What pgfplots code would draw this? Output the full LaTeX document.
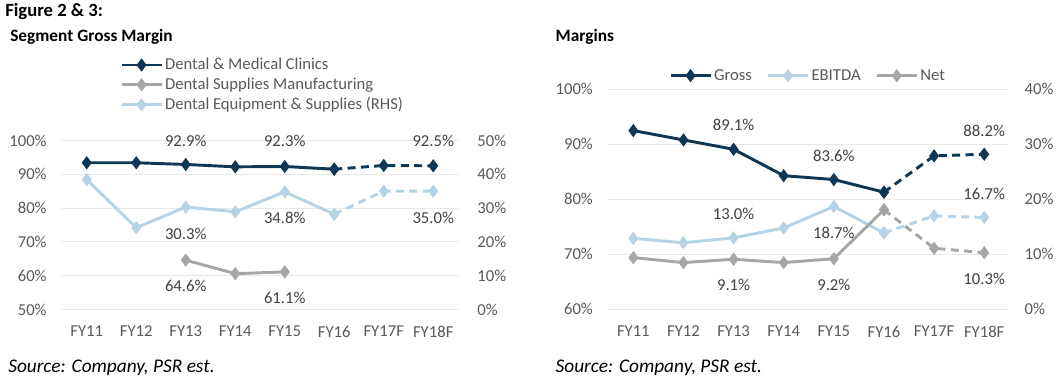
\documentclass[border=0pt]{standalone}
\usepackage{pgfplots}
\pgfplotsset{compat=1.18}
\usepackage{fontspec}
\setmainfont{Carlito}
\definecolor{navy}{RGB}{13,55,84}
\definecolor{lblue}{RGB}{182,211,229}
\definecolor{mgrey}{RGB}{166,166,166}
\definecolor{tgrey}{RGB}{89,89,89}
\definecolor{lgrey}{RGB}{64,64,64}
\definecolor{gridc}{RGB}{232,232,232}
\newcommand{\tf}{\fontsize{12.5}{14}\selectfont}
\pgfplotsset{
  base/.style={scale only axis, clip=false, xmin=-0.5, xmax=7.5,
    xtick={0,...,7}, xticklabels={FY11,FY12,FY13,FY14,FY15,FY16,FY17F,FY18F},
    axis line style={draw=none}, major tick length=0pt,
    font=\tf, /pgf/number format/assume math mode=true,
    ticklabel style={text=tgrey},
    xticklabel style={yshift=-9pt},
    yticklabel={\pgfmathprintnumber[fixed]{\tick}\%},
    legend image code/.code={\draw[mark repeat=2,mark phase=2,##1] plot coordinates {(0pt,0pt) (15pt,0pt) (30pt,0pt)};},
  },
  grd/.style={ymajorgrids, grid style={gridc, line width=0.8pt}},
  ln/.style={line width=2.2pt, mark=diamond*, mark size=3.2pt, mark options={solid}},
  dsh/.style={ln, dash pattern=on 6pt off 4pt},
}
\begin{document}
\begin{tikzpicture}
\path[use as bounding box] (0,0) rectangle (796.5pt,286.5pt);
% titles
\node[anchor=base west, inner sep=0pt, font=\fontsize{14}{16}\selectfont\bfseries] at (3.75pt,273.75pt) {Figure 2 \& 3:};
\node[anchor=base west, inner sep=0pt, font=\fontsize{13}{15}\selectfont\bfseries] at (7.5pt,255.2pt) {Segment Gross Margin};
\node[anchor=base west, inner sep=0pt, font=\fontsize{13}{15}\selectfont\bfseries] at (416.5pt,255.2pt) {Margins};
\node[anchor=base west, inner sep=0pt, font=\fontsize{14.5}{16}\selectfont\itshape] at (6pt,7.5pt) {Source: Company, PSR est.};
\node[anchor=base west, inner sep=0pt, font=\fontsize{14.5}{16}\selectfont\itshape] at (416.5pt,7.5pt) {Source: Company, PSR est.};

% ---------- Left chart ----------
\begin{axis}[base, grd, at={(46.5pt,54.4pt)}, anchor=south west, width=297pt, height=126.75pt,
  ymin=50, ymax=100, ytick={50,60,...,100}, yticklabel style={xshift=-8pt},
  legend style={draw=none, fill=none, at={(0.146,1.50)}, anchor=north west, font=\tf, text=tgrey,
    inner sep=0pt, row sep=1.6pt, cells={anchor=west}, nodes={inner sep=1.5pt}}]
\addplot[ln, navy] coordinates {(0,93.4) (1,93.4) (2,92.9) (3,92.2) (4,92.3) (5,91.5)};
\addlegendentry{Dental \& Medical Clinics}
\addplot[dsh, navy, forget plot] coordinates {(5,91.5) (6,92.6) (7,92.5)};
\addplot[ln, mgrey] coordinates {(2,64.6) (3,60.6) (4,61.1)};
\addlegendentry{Dental Supplies Manufacturing}
\addlegendimage{ln, lblue}
\addlegendentry{Dental Equipment \& Supplies (RHS)}
\node[text=lgrey, font=\tf] at (axis cs:2,100) {92.9\%};
\node[text=lgrey, font=\tf] at (axis cs:4,100) {92.3\%};
\node[text=lgrey, font=\tf] at (axis cs:7,100) {92.5\%};
\node[text=lgrey, font=\tf] at (axis cs:2,57.0) {64.6\%};
\node[text=lgrey, font=\tf] at (axis cs:4,53.3) {61.1\%};
\end{axis}
\begin{axis}[base, at={(46.5pt,54.4pt)}, anchor=south west, width=297pt, height=126.75pt,
  hide x axis, ymin=0, ymax=50, ytick={0,10,...,50}, yticklabel pos=right, yticklabel style={xshift=11pt, anchor=west}]
\addplot[ln, lblue] coordinates {(0,38.4) (1,24.2) (2,30.3) (3,28.9) (4,34.8) (5,28.2)};
\addplot[dsh, lblue] coordinates {(5,28.2) (6,35.0) (7,35.0)};
\node[text=lgrey, font=\tf] at (axis cs:2,22.5) {30.3\%};
\node[text=lgrey, font=\tf] at (axis cs:4,27.2) {34.8\%};
\node[text=lgrey, font=\tf] at (axis cs:7,27.2) {35.0\%};
\end{axis}

% ---------- Right chart ----------
\begin{axis}[base, grd, at={(456.2pt,54.5pt)}, anchor=south west, width=300.75pt, height=165pt,
  ymin=60, ymax=100, ytick={60,70,...,100}, yticklabel style={xshift=-8pt}]
\addplot[ln, navy] coordinates {(0,92.5) (1,90.8) (2,89.1) (3,84.3) (4,83.6) (5,81.3)};
\addplot[dsh, navy] coordinates {(5,81.3) (6,87.9) (7,88.2)};
\node[text=lgrey, font=\tf] at (axis cs:2,93.5) {89.1\%};
\node[text=lgrey, font=\tf] at (axis cs:4,87.9) {83.6\%};
\node[text=lgrey, font=\tf] at (axis cs:7,92.5) {88.2\%};
\end{axis}
\begin{axis}[base, at={(456.2pt,54.5pt)}, anchor=south west, width=300.75pt, height=165pt,
  hide x axis, ymin=0, ymax=40, ytick={0,10,...,40}, yticklabel pos=right, yticklabel style={xshift=8pt, anchor=west},
  legend columns=3,
  legend style={draw=none, fill=none, at={(0.151,1.062)}, anchor=west, font=\tf, text=tgrey,
    inner sep=0pt, nodes={inner sep=1.5pt}, /tikz/every even column/.append style={column sep=9.5pt}}]
\addlegendimage{ln, navy}
\addlegendentry{Gross}
\addplot[ln, lblue] coordinates {(0,12.9) (1,12.1) (2,13.0) (3,14.8) (4,18.7) (5,13.9)};
\addlegendentry{EBITDA}
\addplot[dsh, lblue, forget plot] coordinates {(5,13.9) (6,17.0) (7,16.7)};
\addplot[ln, mgrey] coordinates {(0,9.4) (1,8.5) (2,9.1) (3,8.5) (4,9.2) (5,18.1)};
\addlegendentry{Net}
\addplot[dsh, mgrey, forget plot] coordinates {(5,18.1) (6,11.1) (7,10.3)};
\node[text=lgrey, font=\tf] at (axis cs:2,17.3) {13.0\%};
\node[text=lgrey, font=\tf] at (axis cs:4,13.9) {18.7\%};
\node[text=lgrey, font=\tf] at (axis cs:7,21.0) {16.7\%};
\node[text=lgrey, font=\tf] at (axis cs:2,4.4) {9.1\%};
\node[text=lgrey, font=\tf] at (axis cs:4,4.4) {9.2\%};
\node[text=lgrey, font=\tf] at (axis cs:7,5.5) {10.3\%};
\end{axis}
\end{tikzpicture}
\end{document}
